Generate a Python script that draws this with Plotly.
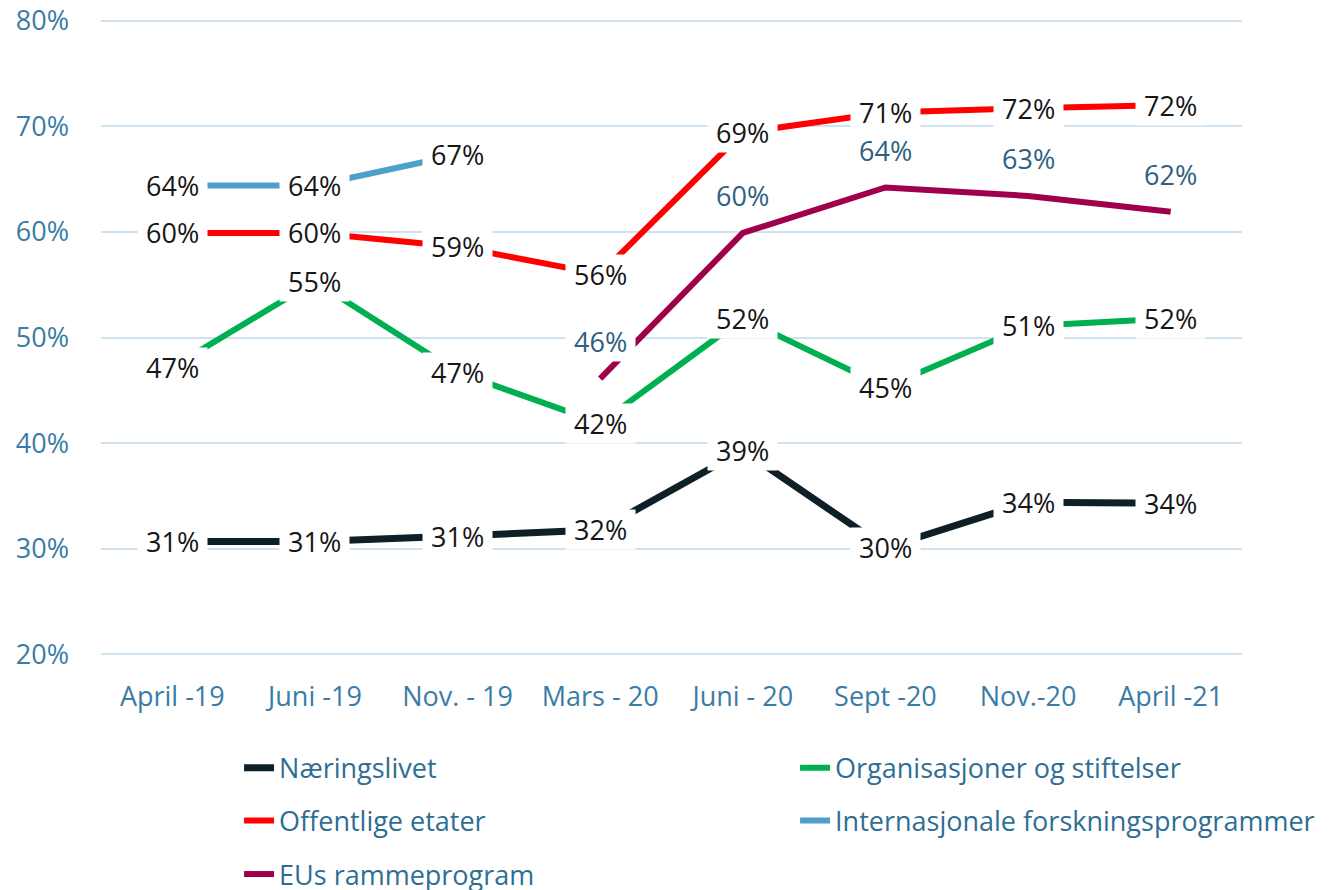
import plotly.graph_objects as go

categories = ["April -19", "Juni -19", "Nov. - 19", "Mars - 20", "Juni - 20", "Sept -20", "Nov.-20", "April -21"]
y_ticks = [20, 30, 40, 50, 60, 70, 80]

naeringslivet = [30.7, 30.7, 31.2, 31.8, 39.3, 30.1, 34.4, 34.3]
organisasjoner = [47.2, 55.3, 46.7, 41.9, 51.8, 45.3, 51.1, 51.8]
offentlige = [59.9, 59.9, 58.6, 56.0, 69.4, 71.3, 71.7, 72.0]
internasjonale = [64.4, 64.4, 67.3, None, None, None, None, None]
eu_ramme = [None, None, None, 46.1, 59.9, 64.2, 63.4, 61.9]

# (name, values, colour, width, legend row)
series = [
    ("Næringslivet", naeringslivet, "#0e1f28", 7, "legend"),
    ("Organisasjoner og stiftelser", organisasjoner, "#00b050", 6, "legend"),
    ("Offentlige etater", offentlige, "#ff0000", 6, "legend2"),
    ("Internasjonale forskningsprogrammer", internasjonale, "#4f9fcb", 6, "legend2"),
    ("EUs rammeprogram", eu_ramme, "#a0004b", 6, "legend3"),
]

FONT = "Open Sans"
TICK_COLOR = "#3a7ca6"
LEGEND_COLOR = "#2f6e93"
NB = "\u00a0"

fig = go.Figure()
for name, vals, color, w, lg in series:
    fig.add_trace(go.Scatter(
        x=categories, y=vals, name=name, mode="lines",
        line=dict(color=color, width=w), connectgaps=False, legend=lg,
    ))

annotations = []
# EU labels first so the other labels sit on top of them
for name, vals, color, w, lg in sorted(series, key=lambda s: s[0] != "EUs rammeprogram"):
    is_eu = name == "EUs rammeprogram"
    for c, v in zip(categories, vals):
        if v is None:
            continue
        annotations.append(dict(
            x=c, y=v, xref="x", yref="y", text=f"{NB}{v:.0f}%{NB}", showarrow=False,
            font=dict(family=FONT, size=27, color="#2f5f7f" if is_eu else "#161616"),
            bgcolor="white", borderpad=1,
            yshift=37 if is_eu else 0,
        ))

legend_common = dict(
    orientation="h", xanchor="left", yanchor="middle",
    entrywidth=511, entrywidthmode="pixels",
    font=dict(family=FONT, size=27, color=LEGEND_COLOR),
    bgcolor="rgba(0,0,0,0)",
)

fig.update_layout(
    width=1332, height=890,
    margin=dict(l=93, r=98, t=11, b=242, autoexpand=False),
    plot_bgcolor="white", paper_bgcolor="white",
    font=dict(family=FONT, size=27, color=TICK_COLOR),
    showlegend=True,
    legend=dict(x=0.121, y=-0.176, **legend_common),
    legend2=dict(x=0.121, y=-0.259, **legend_common),
    legend3=dict(x=0.121, y=-0.343, **legend_common),
    annotations=annotations,
)
fig.update_xaxes(
    type="category", range=[-0.5, 7.5], showgrid=False, showline=False,
    zeroline=False, ticks="", ticklabelstandoff=22,
    tickfont=dict(family=FONT, size=27, color=TICK_COLOR),
)
fig.update_yaxes(
    range=[19.85, 80.15], tickmode="array", tickvals=y_ticks,
    ticktext=[f"{t}%" for t in y_ticks], ticklabeloverflow="allow",
    showgrid=True, gridcolor="#cfe2f0", gridwidth=2, zeroline=False, showline=False,
    ticks="", ticklabelstandoff=31,
    tickfont=dict(family=FONT, size=27, color=TICK_COLOR),
)

fig.write_html("out.html")
